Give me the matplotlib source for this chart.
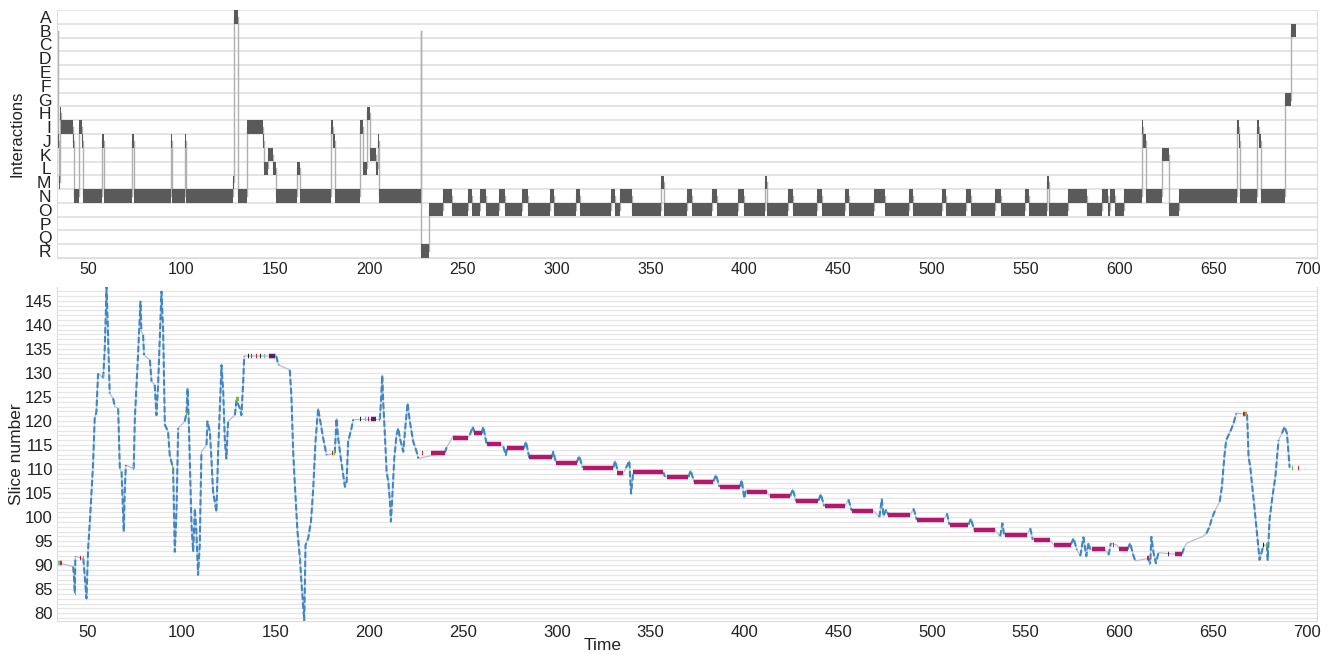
import numpy as np
import matplotlib
matplotlib.use("Agg")
import matplotlib.pyplot as plt

plt.rcParams['font.family'] = ['Liberation Sans', 'DejaVu Sans']

# ---------------- data: interactions timeline ----------------
row_labels = list("ABCDEFGHIJKLMNOPQR")
ev_start = [33.6, 34.2, 34.7, 35.2, 35.7, 42.2, 42.8, 45.3, 46.8, 47.3, 57.8, 58.6, 73.8, 74.6,
            94.2, 95.0, 101.7, 102.5, 127.6, 128.2, 130.0, 134.8, 143.3, 144.1, 146.1, 148.8,
            150.3, 161.8, 163.0, 179.6, 180.8, 181.6, 195.0, 196.8, 198.9, 200.7, 203.6, 204.5,
            205.3, 227.5, 227.9, 231.8,
            239.5, 244.4, 252.5, 255.1, 259.0, 262.1, 269.3, 272.5, 281.7, 284.8, 296.4, 298.3,
            310.2, 312.3, 328.9, 331.1, 333.7, 340.1, 355.4, 357.0, 369.6, 371.9, 383.0, 385.6,
            396.8, 399.8, 411.0, 412.0, 423.5, 426.2, 438.7, 441.4, 453.5, 455.6, 469.3, 475.1,
            487.9, 490.0, 505.5, 507.4, 518.3, 520.7, 533.9, 537.1, 549.7, 551.9, 561.3, 562.5,
            572.8, 582.9, 590.6, 593.8, 595.0, 597.7, 602.2, 611.9, 612.8, 613.9, 614.4, 622.6,
            626.5, 631.9, 662.6, 663.6, 664.4, 673.5, 674.5, 675.3, 688.4, 691.6]
ev_end = ev_start[1:] + [694.3]
ev_state = ["B", "J", "M", "H", "I", "J", "N", "I", "J", "N", "J", "N", "J", "N",
            "J", "N", "J", "N", "M", "A", "N", "I", "J", "L", "K", "L",
            "N", "L", "N", "I", "J", "N", "I", "L", "H", "K", "L", "J",
            "N", "B", "R", "O",
            "N", "O", "N", "O", "N", "O", "N", "O", "N", "O", "N", "O",
            "N", "O", "N", "O", "N", "O", "M", "O", "N", "O", "N", "O",
            "N", "O", "M", "O", "N", "O", "N", "O", "N", "O", "N", "O",
            "N", "O", "N", "O", "N", "O", "N", "O", "N", "O", "M", "O",
            "N", "O", "N", "O", "N", "O", "N", "I", "J", "M", "N", "K",
            "O", "N", "I", "J", "N", "I", "J", "N", "G", "B"]

# ---------------- data: slice trajectory ----------------
traj_t = [34.2, 35.5, 42.2, 42.6, 43.1, 43.4, 47.6, 48.0, 49.3, 50.2, 51.1, 52.0, 52.8, 53.7,
          54.6, 55.5, 58.2, 59.0, 59.6, 60.0, 60.5, 61.4, 61.7, 63.5, 64.4, 66.2, 67.1, 68.0,
          69.2, 69.7, 70.3, 74.5, 75.1, 76.8, 78.1, 78.6, 79.5, 80.0, 83.1, 84.0, 85.7, 86.6,
          87.5, 88.4, 89.3, 90.2, 91.1, 92.8, 93.7, 95.5, 96.4, 97.3, 98.2, 101.7, 102.6,
          103.2, 103.9, 105.3, 106.2, 107.1, 107.9, 108.8, 109.7, 110.6, 113.3, 113.8, 115.1,
          116.0, 116.8, 118.6, 119.5, 121.3, 122.2, 123.1, 123.9, 124.8, 128.4, 129.3, 131.1,
          131.9, 132.8, 133.4, 150.5, 151.2, 151.9, 157.7, 158.6, 159.5, 160.4, 161.8, 163.1,
          164.0, 165.4, 166.1, 167.5, 169.0, 170.2, 171.4, 172.8, 173.7, 175.5, 177.3, 181.7,
          182.6, 183.5, 184.9, 186.2, 187.1, 188.0, 188.8, 189.7, 190.6, 191.5, 205.7, 206.3,
          207.0, 207.5, 208.4, 209.3, 210.2, 211.1, 211.6, 212.3, 213.4, 214.6, 215.5, 216.4,
          218.2, 219.4, 220.5, 221.7, 223.5, 225.3, 226.2, 240.4, 241.3, 243.1, 244.9, 253.0,
          253.7, 255.2, 256.4, 260.0, 260.8, 262.6, 270.1, 271.5, 272.9, 273.6, 282.5, 283.6,
          285.4, 297.3, 298.2, 299.6, 310.6, 312.0, 313.8, 330.2, 331.1, 332.8, 335.5, 336.9,
          338.7, 339.6, 340.8, 356.8, 357.7, 370.2, 371.4, 373.2, 383.5, 384.9, 386.7, 397.7,
          398.6, 400.0, 400.9, 412.0, 413.7, 424.4, 425.8, 427.6, 439.5, 440.8, 442.5, 453.7,
          455.5, 457.3, 468.8, 472.0, 473.3, 474.2, 475.6, 476.8, 488.4, 490.2, 492.0, 506.2,
          508.0, 509.4, 519.5, 520.8, 522.5, 533.7, 536.4, 537.6, 538.5, 550.6, 552.4, 553.8,
          562.7, 564.8, 574.1, 575.5, 577.3, 579.1, 580.8, 582.3, 583.5, 584.4, 592.4, 594.2,
          595.4, 598.6, 600.0, 604.3, 605.7, 607.2, 608.4, 615.2, 616.4, 617.0, 618.2, 619.4,
          620.8, 629.7, 633.3, 634.7, 636.0, 639.5, 644.5, 646.3, 648.0, 649.3, 651.1, 653.4,
          654.6, 655.9, 656.9, 658.2, 659.4, 660.8, 662.3, 668.0, 668.4, 668.8, 669.7, 670.6,
          671.9, 673.3, 674.7, 676.8, 678.6, 679.0, 680.0, 681.3, 683.1, 684.8, 686.6, 688.0,
          689.3, 690.7]
traj_s = [90.4, 90.4, 89.7, 88.0, 84.2, 91.8, 91.4, 89.7, 83.1, 93.5, 99.0, 105.3, 110.8, 120.5,
          121.9, 129.9, 128.9, 134.4, 142.0, 147.9, 142.0, 129.5, 125.7, 124.7, 123.0, 122.6, 110.1, 109.5,
          97.0, 105.3, 110.8, 110.1, 120.5, 133.7, 144.8, 138.6, 137.9, 133.7, 132.7, 128.2, 127.5, 121.2,
          127.5, 137.2, 146.9, 138.6, 119.2, 117.8, 112.9, 110.1, 92.8, 101.1, 118.5, 119.9, 121.6,
          126.8, 119.2, 98.4, 92.8, 101.8, 97.0, 88.0, 94.2, 113.6, 115.0, 119.9, 117.8,
          111.5, 105.3, 101.1, 113.6, 131.6, 126.1, 115.7, 112.2, 119.9, 121.2, 124.3, 122.6,
          121.2, 127.5, 133.5, 133.5, 132.3, 131.6, 130.6, 124.7, 113.6, 106.7, 97.0, 91.4,
          85.9, 78.5, 94.2, 95.6, 99.1, 106.0, 115.7, 122.6, 120.5, 116.4, 112.9, 113.3,
          120.5, 116.4, 112.2, 108.8, 106.3, 107.4, 115.7, 117.1, 118.5, 120.3, 120.3, 124.0,
          129.5, 124.0, 117.1, 109.5, 107.4, 103.2, 99.1, 103.9, 112.2, 117.1, 118.5, 116.4,
          113.6, 119.2, 123.7, 119.9, 115.7, 113.6, 112.2, 113.4, 114.5, 115.7, 116.9, 116.6,
          117.1, 118.8, 117.4, 117.4, 118.8, 115.3, 115.3, 114.7, 112.9, 114.5, 114.3, 115.7,
          112.3, 112.4, 113.6, 111.3, 111.3, 112.7, 110.3, 110.3, 111.7, 109.2, 109.2, 110.2,
          111.7, 104.9, 109.3, 109.3, 108.4, 108.3, 109.7, 107.4, 107.4, 108.8, 106.3, 106.3,
          107.7, 103.9, 105.6, 105.3, 104.3, 104.3, 105.8, 103.3, 103.4, 104.8, 102.3, 102.3,
          103.7, 101.3, 101.3, 100.0, 103.7, 100.2, 101.6, 100.4, 100.4, 101.8, 99.4, 99.4,
          100.8, 98.4, 98.4, 99.7, 97.3, 97.3, 96.0, 98.7, 96.3, 96.3, 97.7, 95.3,
          95.3, 94.3, 94.3, 95.6, 93.2, 91.9, 95.8, 91.9, 94.6, 93.3, 93.3, 92.1,
          94.6, 94.2, 93.3, 93.3, 94.6, 92.3, 90.9, 91.4, 90.4, 95.9, 92.5, 90.4,
          92.6, 92.3, 92.3, 93.9, 94.6, 95.2, 96.0, 96.6, 98.0, 99.8, 101.5, 103.2,
          106.3, 112.6, 116.0, 117.1, 118.1, 119.5, 121.6, 121.4, 117.4, 112.6, 110.5, 107.0,
          102.2, 96.6, 91.1, 94.2, 94.2, 91.1, 99.4, 103.6, 108.4, 116.0, 117.4, 118.8,
          117.4, 110.3]

# interaction markers on the slice plot (category codes)
mk_start = [34.2, 35.0, 43.0, 45.6, 47.2, 58.0, 74.3, 94.9, 102.2, 128.9,
            135.2, 137.0, 139.7, 142.0, 144.1, 146.8, 149.9, 162.7, 180.4, 181.1,
            195.2, 197.7, 199.5, 201.2, 205.0, 228.3, 232.9,
            244.9, 255.9, 263.0, 273.3, 285.4, 299.6, 313.8, 332.3, 340.8, 358.6,
            373.2, 387.1, 401.3, 413.7, 427.6, 443.1, 457.3, 476.8, 492.0, 509.4,
            522.5, 539.1, 554.2, 565.2, 585.3, 596.5, 600.0, 614.8, 615.9, 625.9,
            629.7, 665.9, 667.0, 676.4, 678.2, 692.0, 695.2]
mk_end = [35.0, 36.0, 43.5, 46.3, 47.8, 58.7, 74.8, 95.5, 102.8, 130.4,
          135.8, 137.6, 140.3, 142.6, 144.7, 149.6, 150.5, 163.3, 181.0, 181.7,
          195.8, 198.3, 200.1, 203.6, 205.6, 228.9, 240.4,
          252.9, 260.0, 270.1, 282.5, 297.3, 310.6, 330.2, 335.5, 356.8, 370.2,
          383.5, 397.7, 412.0, 424.4, 439.5, 453.7, 468.8, 488.4, 506.2, 519.5,
          533.7, 550.6, 562.7, 574.1, 592.4, 597.1, 604.3, 615.5, 616.5, 626.6,
          633.3, 666.9, 668.0, 677.0, 678.9, 692.6, 695.8]
mk_level = [90.4, 90.4, 84.2, 91.4, 91.4, 129.3, 110.3, 110.3, 121.5, 124.5,
            133.5, 133.5, 133.5, 133.5, 133.5, 133.5, 133.5, 91.4, 113.3, 113.3,
            120.3, 120.3, 120.3, 120.3, 120.3, 113.4, 113.4,
            116.5, 117.4, 115.3, 114.3, 112.4, 111.3, 110.3, 109.2, 109.3, 108.3,
            107.4, 106.3, 105.3, 104.3, 103.4, 102.3, 101.3, 100.4, 99.4, 98.4,
            97.3, 96.3, 95.3, 94.3, 93.3, 94.3, 93.3, 91.4, 90.4, 92.3,
            92.3, 121.4, 121.4, 94.2, 94.2, 110.3, 110.3]
mk_kind = ["teal", "red", "green", "red", "green", "green", "green", "green", "green", "green",
           "black", "red", "red", "black", "teal", "purple", "teal", "teal", "red", "green",
           "black", "teal", "magenta", "purple", "green", "red", "magenta",
           "magenta", "magenta", "magenta", "magenta", "magenta", "magenta", "magenta", "magenta", "magenta", "magenta",
           "magenta", "magenta", "magenta", "magenta", "magenta", "magenta", "magenta", "magenta", "magenta", "magenta",
           "magenta", "magenta", "magenta", "magenta", "magenta", "red", "magenta", "red", "green", "purple",
           "magenta", "red", "green", "black", "green", "green", "red"]

x_ticks = [50, 100, 150, 200, 250, 300, 350, 400, 450, 500, 550, 600, 650, 700]
y_ticks_bottom = [80, 85, 90, 95, 100, 105, 110, 115, 120, 125, 130, 135, 140, 145]

# ---------------- styles ----------------
kind_color = {"teal": "#6cc2a5", "red": "#c0302a", "green": "#7cb845", "black": "#1f2a22",
              "purple": "#5a1e6e", "magenta": "#b5176c"}
BAR = "#5a5a5a"
GRID = "#e2e2e2"
TXT = "#222222"
xlim = (33.6, 705.3)

fig = plt.figure(figsize=(13.33, 6.55), dpi=100)
W, H = 1333, 655
ax1 = fig.add_axes([57 / W, 1 - 258 / H, 1260 / W, 248 / H])
ax2 = fig.add_axes([57 / W, 1 - 621 / H, 1260 / W, 334 / H])

# ---- top panel ----
rows = {l: i for i, l in enumerate(row_labels)}
nrows = len(row_labels)
for b in range(nrows + 1):
    ax1.axhline(b, color=GRID, lw=1.3, zorder=0)
ev_row = np.array([rows[s] for s in ev_state], dtype=float)
st = np.array(ev_start); en = np.array(ev_end)
# connectors
for i in range(len(st) - 1):
    ax1.plot([en[i], en[i]], [ev_row[i] + 0.5, ev_row[i + 1] + 0.5], color="#b0b0b0", lw=1.0, zorder=1)
ax1.barh(ev_row + 0.5, en - st, left=st, height=0.96, color=BAR, zorder=2, linewidth=0)
ax1.set_ylim(nrows, 0)
ax1.set_xlim(*xlim)
ax1.set_yticks(np.arange(nrows) + 0.5)
ax1.set_yticklabels(row_labels)
ax1.set_xticks(x_ticks)
ax1.tick_params(length=0, labelsize=11.5, colors=TXT, pad=3)
ax1.tick_params(axis='y', pad=4, labelsize=12.5)
for sp in ax1.spines.values():
    sp.set_color("#dcdcdc")
ax1.spines['top'].set_visible(False)
ax1.set_ylabel("Interactions", fontsize=12, color=TXT)
ax1.yaxis.set_label_coords(-0.026, 0.5)

# ---- bottom panel ----
for v in range(79, 148):
    ax2.axhline(v, color="#e6e6e6", lw=0.9, zorder=0)
t = np.array(traj_t); s = np.array(traj_s)
ax2.plot(t, s, color="#bdbbd3", lw=0.9, zorder=1)
# blue dashes where slice changes quickly
slope = np.abs(np.diff(s)) / np.maximum(np.diff(t), 1e-6)
bt, bs = [], []
for i in range(len(t) - 1):
    if slope[i] > 0.8:
        if bt and bt[-1] == t[i]:
            bt.append(t[i + 1]); bs.append(s[i + 1])
        else:
            if bt:
                bt.append(np.nan); bs.append(np.nan)
            bt += [t[i], t[i + 1]]; bs += [s[i], s[i + 1]]
ax2.plot(bt, bs, color="#3a88c6", lw=1.5, ls=(0, (3.0, 1.3)), zorder=2, solid_capstyle='butt')
for a, b, lv, k in zip(mk_start, mk_end, mk_level, mk_kind):
    ax2.plot([a, b], [lv, lv], color=kind_color[k], lw=3.2, solid_capstyle='butt', zorder=3)
ax2.set_xlim(*xlim)
ax2.set_ylim(78.4, 147.85)
ax2.set_xticks(x_ticks)
ax2.set_yticks(y_ticks_bottom)
ax2.tick_params(length=0, labelsize=12, colors=TXT, pad=3)
for sp in ax2.spines.values():
    sp.set_color("#dcdcdc")
ax2.spines['top'].set_visible(False)
ax2.set_ylabel("Slice number", fontsize=12.5, color=TXT)
ax2.yaxis.set_label_coords(-0.026, 0.5)
fig.text(603 / W, 1 - 645 / H, "Time", ha="center", va="center", fontsize=12.5, color=TXT)

fig.savefig("out.png", dpi=100)
